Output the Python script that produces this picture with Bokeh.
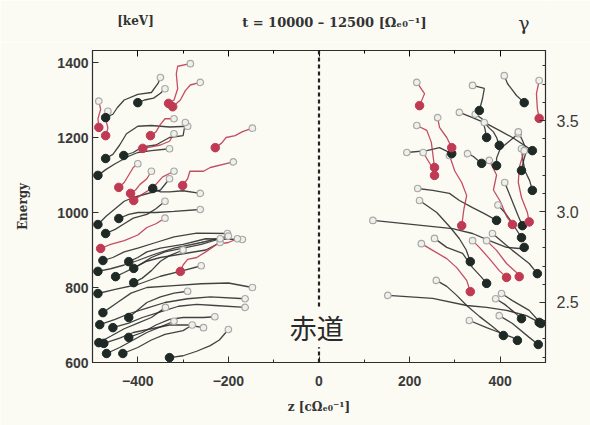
import math
from bokeh.plotting import figure
from bokeh.layouts import column
from bokeh.models import Range1d, LinearAxis, FixedTicker, PrintfTickFormatter, Span, Label
from bokeh.core.properties import value
from bokeh.embed import file_html
from bokeh.resources import INLINE

# ---------------- data (first point = filled dot = final position, last point = open circle = initial position)
left_black_z = [
    [-400, -385, -365, -350, -340],
    [-471, -455, -445, -430, -400, -370, -355, -350],
    [-471, -455, -440, -425, -400, -370, -330, -290],
    [-431, -410, -390, -360, -330, -300, -295],
    [-488, -470, -450, -420, -400, -370, -330],
    [-367, -350, -330, -300, -262],
    [-488, -470, -450, -430, -410, -380, -350, -330],
    [-442, -420, -400, -360, -320, -262],
    [-471, -450, -430, -410, -380, -360, -340],
    [-477, -455, -430, -400, -360, -320, -270, -202],
    [-420, -400, -380, -350, -300, -250, -169],
    [-488, -460, -430, -400, -360, -320, -260, -200],
    [-449, -430, -405, -380, -350, -300, -250, -218],
    [-409, -390, -370, -350, -330, -300],
    [-409, -390, -370, -340, -300, -260, -218],
    [-488, -450, -400, -350, -300, -260],
    [-477, -445, -415, -380, -320, -260, -200, -147],
    [-484, -450, -420, -380, -340, -290, -240, -163],
    [-455, -420, -390, -350, -310, -270, -230, -163],
    [-420, -400, -380, -350, -320, -290],
    [-420, -390, -360, -330, -300, -255, -230],
    [-486, -460, -430, -400, -370, -339],
    [-475, -440, -410, -370, -330, -290, -255],
    [-469, -440, -410, -380, -350, -320],
    [-433, -400, -370, -340, -300, -280],
    [-330, -300, -270, -240, -220, -200],
]
left_black_E = [
    [1293, 1300, 1305, 1318, 1330],
    [1253, 1262, 1280, 1300, 1315, 1320, 1345, 1360],
    [1144, 1155, 1180, 1210, 1230, 1232, 1228, 1230],
    [1152, 1160, 1175, 1180, 1200, 1205, 1240],
    [1099, 1115, 1130, 1150, 1160, 1165, 1170],
    [1064, 1055, 1055, 1058, 1051],
    [968, 990, 1010, 1030, 1040, 1050, 1060, 1090],
    [984, 995, 1000, 1000, 1003, 1008],
    [944, 955, 970, 985, 995, 1010, 1030],
    [872, 880, 895, 905, 920, 935, 945, 944],
    [869, 880, 895, 905, 915, 930, 928],
    [843, 850, 860, 872, 890, 905, 920, 937],
    [829, 840, 855, 870, 880, 890, 900, 920],
    [813, 825, 845, 870, 885, 900],
    [851, 865, 880, 895, 905, 915, 930],
    [784, 795, 808, 830, 845, 858],
    [733, 760, 785, 800, 805, 810, 812, 800],
    [701, 715, 730, 745, 760, 770, 775, 770],
    [693, 705, 720, 735, 750, 755, 752, 747],
    [720, 740, 760, 775, 785, 790],
    [667, 680, 700, 715, 720, 720, 722],
    [653, 670, 690, 705, 720, 747],
    [651, 665, 680, 690, 700, 700, 693],
    [624, 640, 660, 680, 695, 710],
    [624, 640, 660, 675, 685, 700],
    [613, 618, 630, 645, 660, 688],
]
left_red_z = [
    [-332, -320, -312, -315, -312, -284],
    [-323, -306, -295, -284, -262],
    [-486, -488, -482, -486],
    [-471, -466, -471, -466],
    [-372, -360, -350, -340, -320],
    [-389, -370, -350, -330, -320],
    [-229, -215, -205, -185, -170, -147],
    [-301, -290, -285, -255, -240, -189],
    [-442, -430, -420, -410, -400],
    [-416, -405, -395, -380, -370],
    [-409, -395, -375, -360, -345, -320],
    [-482, -460, -430, -400, -380, -360, -340],
    [-306, -300, -290, -270, -250, -226, -200, -180],
]
left_red_E = [
    [1291, 1300, 1330, 1370, 1390, 1397],
    [1282, 1300, 1325, 1340, 1347],
    [1227, 1250, 1275, 1297],
    [1205, 1225, 1250, 1270],
    [1205, 1215, 1235, 1250, 1250],
    [1171, 1175, 1180, 1190, 1210],
    [1173, 1185, 1200, 1205, 1215, 1225],
    [1072, 1090, 1110, 1110, 1120, 1135],
    [1067, 1080, 1100, 1120, 1130],
    [1051, 1060, 1075, 1090, 1110],
    [1032, 1045, 1060, 1075, 1095, 1110],
    [904, 915, 925, 940, 960, 970, 985],
    [843, 860, 875, 880, 895, 915, 920, 930],
]
right_black_z = [
    [453, 436, 416, 409],
    [354, 361, 365, 339],
    [471, 427, 398, 370, 339, 310],
    [370, 366, 360, 345],
    [398, 392, 385, 376, 365],
    [359, 350, 340, 328],
    [392, 392, 400, 420, 440],
    [447, 452, 458, 450, 440],
    [471, 465, 455, 450, 447],
    [293, 266, 238, 194],
    [392, 365, 339, 310, 288, 251, 218],
    [453, 442, 414, 376, 339, 295, 119],
    [449, 440, 430, 420, 410],
    [447, 438, 425, 410, 395],
    [482, 464, 427, 383],
    [370, 359, 339, 317, 282, 255],
    [334, 325, 310, 290, 260, 222],
    [486, 458, 414, 370, 326, 251, 152],
    [407, 383, 354, 326, 304, 282, 259],
    [438, 427, 398, 370, 332],
    [484, 464, 427, 398],
    [490, 464, 427, 403],
    [447, 430, 410, 390],
]
right_black_E = [
    [1293, 1312, 1344, 1365],
    [1272, 1304, 1331, 1339],
    [1165, 1200, 1219, 1237, 1253, 1267],
    [1200, 1225, 1250, 1262],
    [1179, 1200, 1215, 1225, 1240],
    [1131, 1140, 1150, 1157],
    [1125, 1145, 1170, 1190, 1210],
    [1112, 1140, 1165, 1190, 1215],
    [1059, 1085, 1110, 1140, 1170],
    [1157, 1173, 1165, 1160],
    [979, 997, 1013, 1032, 1051, 1059, 1064],
    [907, 904, 907, 925, 944, 957, 979],
    [965, 990, 1020, 1050, 1080],
    [933, 950, 975, 1000, 1020],
    [837, 864, 899, 944],
    [811, 827, 853, 891, 907, 931],
    [869, 900, 930, 960, 1000, 1032],
    [707, 725, 739, 747, 752, 771, 779],
    [672, 696, 723, 752, 779, 803, 819],
    [659, 667, 680, 693, 712],
    [648, 667, 704, 725],
    [704, 739, 765, 784],
    [717, 735, 755, 770],
]
right_red_z = [
    [222, 233, 216],
    [486, 482, 480, 486],
    [255, 248, 238, 216],
    [293, 282, 266, 262],
    [255, 250, 240, 230],
    [315, 320, 326, 315, 300, 288],
    [427, 414, 400, 385, 392, 376],
    [464, 460, 447, 440, 442, 453],
    [334, 326, 304, 282, 251, 226],
    [414, 398, 376, 354, 339],
    [442, 436, 414, 392, 370],
]
right_red_E = [
    [1285, 1317, 1347],
    [1251, 1277, 1317, 1352],
    [1120, 1187, 1219, 1232],
    [1173, 1200, 1227, 1253],
    [1099, 1120, 1140, 1160],
    [965, 1010, 1045, 1080, 1110, 1152],
    [968, 990, 1030, 1060, 1100, 1139],
    [975, 1000, 1040, 1080, 1120, 1165],
    [789, 819, 853, 877, 899, 917],
    [827, 845, 877, 907, 925],
    [829, 840, 864, 899, 925],
]

x_ticks = [-400, -200, 0, 200, 400]
x_minor = [-500, -300, -100, 100, 300, 500]
y_ticks = [600, 800, 1000, 1200, 1400]
gamma_ticks = [2.5, 3.0, 3.5]
gamma_minor = [2.2, 2.3, 2.4, 2.6, 2.7, 2.8, 2.9, 3.1, 3.2, 3.3, 3.4, 3.6, 3.7, 3.8]

title_text = "t = 10000 \u2013 12500 [\u03a9\u2091\u2080\u207b\u00b9]"
xlabel_text = "z [c\u03a9\u2091\u2080\u207b\u00b9]"
ylabel_text = "Energy"
unit_text = "[keV]"
gamma_text = "\u03b3"
equator_text = "赤道"

# ---------------- styling
BG = "#fbfbf4"
INK = "#2e2e2e"
RED = "#bf3a52"
DOT_K = "#1f2a26"
serif = "DejaVu Serif"
W = 590

# header strip holding the texts above the plot frame
head = figure(width=W, height=42, x_range=Range1d(0, W), y_range=Range1d(0, 42),
              output_backend="svg", toolbar_location=None, x_axis_type=None, y_axis_type=None,
              min_border=0)
head.outline_line_color = None
head.grid.visible = False
head.background_fill_color = BG
head.border_fill_color = BG
head.add_layout(Label(x=315, y=20, text=title_text, text_align="center", text_baseline="middle",
                      text_font=serif, text_font_size="13px", text_font_style="bold",
                      text_color="#333"))
head.add_layout(Label(x=56, y=22, text=unit_text, text_align="center", text_baseline="middle",
                      text_font=serif, text_font_size="12px", text_font_style="bold",
                      text_color="#333"))
head.add_layout(Label(x=562, y=20, text=gamma_text, text_align="center", text_baseline="middle",
                      text_font=serif, text_font_size="19px", text_color="#333"))

p = figure(width=W, height=383, x_range=Range1d(-500, 500), y_range=Range1d(600, 1432),
           output_backend="svg", toolbar_location=None,
           min_border_left=92, min_border_right=45, min_border_top=8, min_border_bottom=63)
p.grid.visible = False
p.background_fill_color = BG
p.border_fill_color = BG
p.outline_line_color = INK
p.outline_line_width = 1.2

tick_font = "Liberation Sans"
xa = p.xaxis[0]
xa.ticker = FixedTicker(ticks=x_ticks, minor_ticks=x_minor)
ya = p.yaxis[0]
ya.ticker = FixedTicker(ticks=y_ticks)
for ax in (xa, ya):
    ax.major_tick_in = 6
    ax.major_tick_out = 0
    ax.minor_tick_in = 3
    ax.minor_tick_out = 0
    ax.axis_line_color = INK
    ax.major_tick_line_color = INK
    ax.minor_tick_line_color = INK
    ax.major_label_text_font = tick_font
    ax.major_label_text_font_style = "bold"
    ax.major_label_text_font_size = "14px"
    ax.major_label_text_color = "#3a3a3a"
    ax.axis_label_text_font = serif
    ax.axis_label_text_font_style = "bold"
    ax.axis_label_text_font_size = "12px"
    ax.axis_label_text_color = "#333"
ya.minor_tick_line_color = None
xa.major_label_standoff = 13
ya.major_label_standoff = 4
xa.axis_label = xlabel_text
xa.axis_label_standoff = 11
ya.axis_label = ylabel_text
ya.axis_label_standoff = 24

top = LinearAxis(ticker=FixedTicker(ticks=x_ticks, minor_ticks=x_minor),
                 major_tick_in=6, major_tick_out=0, minor_tick_in=3, minor_tick_out=0,
                 major_label_text_color=None, axis_line_color=INK,
                 major_label_text_font_size="1px", major_label_standoff=0)
p.add_layout(top, "above")

p.extra_y_ranges = {"g": Range1d(2.17, 3.885)}
right = LinearAxis(y_range_name="g", ticker=FixedTicker(ticks=gamma_ticks, minor_ticks=gamma_minor),
                   formatter=PrintfTickFormatter(format="%.1f"),
                   major_tick_in=6, major_tick_out=0, minor_tick_in=3, minor_tick_out=0,
                   axis_line_color=INK, major_tick_line_color=INK, minor_tick_line_color=INK,
                   major_label_text_font="Liberation Sans", major_label_text_font_size="16px",
                   major_label_text_color="#3a3a3a", major_label_standoff=11)
p.add_layout(right, "right")

p.add_layout(Span(location=0, dimension="height", line_color="#222", line_width=2.2, line_dash="4 3"))

groups = [
    (left_black_z, left_black_E, INK, DOT_K),
    (right_black_z, right_black_E, INK, DOT_K),
    (left_red_z, left_red_E, RED, RED),
    (right_red_z, right_red_E, RED, RED),
]
for zs, es, lc, dc in groups:
    p.multi_line(xs=zs, ys=es, line_color=lc, line_width=1.3, line_alpha=0.9)
for zs, es, lc, dc in groups:
    p.scatter(x=[z[-1] for z in zs], y=[e[-1] for e in es], size=6.5,
              fill_color="#f0f0ea", line_color="#a8a8a8", line_width=1.2)
for zs, es, lc, dc in groups:
    p.scatter(x=[z[0] for z in zs], y=[e[0] for e in es], size=8.5,
              fill_color=dc, line_color=dc)

p.add_layout(Label(x=-5, y=693, text=equator_text, text_align="center", text_baseline="middle",
                   text_font="Noto Sans CJK JP", text_font_size="27px", text_color="#2a2a2a",
                   background_fill_color=BG))

layout = column(head, p, spacing=0)
open("out.html", "w").write(file_html(layout, INLINE))
